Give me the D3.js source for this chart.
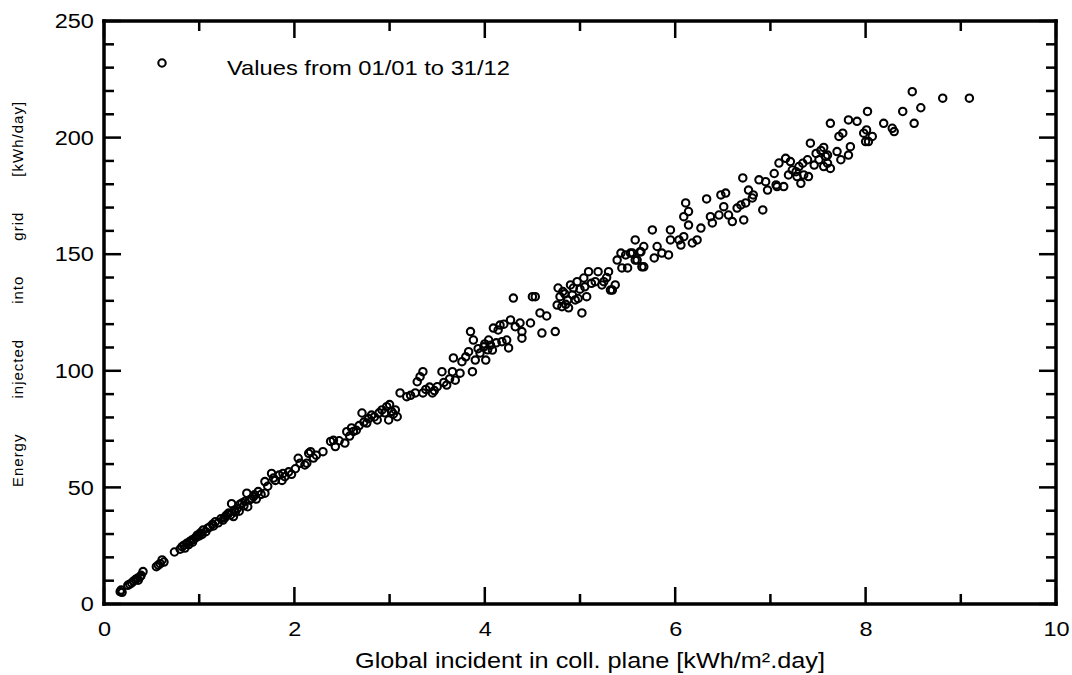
<!DOCTYPE html>
<html>
<head>
<meta charset="utf-8">
<script src="https://cdn.jsdelivr.net/npm/d3@7"></script>
<style>
  body { margin: 0; background: #fff; }
  svg { display: block; }
  text { font-family: "Liberation Sans", Arial, sans-serif; fill: #000; }
</style>
</head>
<body>
<div id="chart"></div>
<script>
// daily values: [global incident kWh/m².day, energy to grid kWh/day]
const pointsLow = [
  [0.17,5.3],[0.18,6.0],[0.19,5.0],[0.25,8.0],[0.27,8.5],[0.29,9.0],[0.31,9.8],[0.33,10.5],
  [0.35,11.0],[0.36,10.2],[0.38,11.7],[0.39,12.3],[0.41,13.9],[0.55,16.0],[0.57,16.7],[0.59,17.3],
  [0.61,18.9],[0.63,18.0],[0.74,22.3],[0.8,23.5],[0.82,24.6],[0.84,25.2],[0.85,24.0],[0.87,26.0],
  [0.89,25.5],[0.9,26.8],[0.92,27.3],[0.93,26.5],[0.94,27.8],[0.96,28.3],[0.97,28.8],[0.98,29.5],
  [1.0,29.2],[1.01,30.4],[1.03,29.8],[1.04,31.7],[1.07,31.0],[1.09,32.5],[1.11,33.0],[1.14,34.2],
  [1.15,33.5],[1.17,35.3],[1.2,34.8],[1.23,36.6],[1.25,36.0],[1.27,37.0],[1.28,37.8],[1.3,38.5],
  [1.31,39.0],[1.33,38.2],[1.34,43.0],[1.36,37.5],[1.37,40.2],[1.38,39.5],[1.4,41.0],[1.42,39.8],
  [1.43,42.8],[1.45,43.3],[1.47,42.1],[1.48,44.0],[1.5,47.5],[1.51,41.7],[1.53,44.6],[1.55,45.2],
  [1.57,46.0],[1.58,46.8],[1.6,45.0],[1.62,48.2],[1.65,47.0],[1.69,47.5],[1.69,52.5],[1.72,50.5],
  [1.76,56.0],[1.78,54.0],[1.8,53.0],[1.84,55.3],[1.87,53.0],[1.88,56.0],[1.9,54.6],[1.94,56.7],
  [1.97,55.6],[2.01,58.0],[2.04,62.5],[2.06,60.4],[2.11,59.6],[2.13,60.4],[2.15,64.6],[2.17,65.3],
  [2.2,62.6],[2.23,63.8],[2.3,65.3],[2.38,69.7],[2.41,70.2],[2.43,67.5],[2.47,70.0]
];
const pointsMid = [
  [2.53,69.0],[2.55,73.9],[2.58,72.0],[2.6,75.5],[2.62,74.0],[2.65,74.5],[2.68,76.5],[2.71,81.9],
  [2.73,78.0],[2.76,77.6],[2.78,79.5],[2.81,81.0],[2.84,80.2],[2.87,78.9],[2.89,82.0],[2.92,83.2],
  [2.95,82.0],[2.97,84.6],[2.99,78.9],[3.0,85.5],[3.02,82.6],[3.04,81.5],[3.06,83.2],[3.08,80.3],
  [3.11,90.5],[3.18,88.9],[3.22,89.5],[3.27,90.5],[3.29,95.3],[3.32,97.5],[3.35,99.6],[3.35,90.5],
  [3.38,92.0],[3.42,93.0],[3.45,90.5],[3.47,91.5],[3.5,93.2],[3.55,99.6],[3.57,95.0],[3.6,93.9],
  [3.63,96.5],[3.66,99.6],[3.67,105.5],[3.69,96.0],[3.74,99.0],[3.76,103.9],[3.8,106.0],[3.83,108.2],
  [3.85,116.8],[3.87,99.6],[3.88,113.2],[3.9,104.6],[3.93,109.5],[3.95,107.6],[3.99,110.3],[4.0,111.5],
  [4.01,104.6],[4.03,109.0],[4.04,113.2],[4.06,111.0],[4.08,108.9],[4.09,118.3],[4.12,112.0],[4.14,117.5],
  [4.16,119.6],[4.18,112.5],[4.2,120.0],[4.23,113.2],[4.25,109.8],[4.27,121.8],[4.3,131.2],[4.32,118.9],
  [4.37,120.5],[4.39,116.8],[4.39,114.0],[4.48,120.5],[4.5,131.8],[4.53,131.8],[4.58,124.8],[4.6,116.2],
  [4.65,123.5],[4.74,116.8],[4.76,128.2],[4.77,135.5],[4.79,131.8],[4.81,127.5],[4.82,134.0],[4.84,133.0],
  [4.85,128.5],[4.87,130.4],[4.88,127.0],[4.9,136.8],[4.92,132.5],[4.93,135.5],[4.95,130.4],[4.97,138.2],
  [4.98,131.0],[5.0,135.0],[5.02,124.8],[5.04,139.8],[5.05,136.0],[5.07,131.8],[5.09,142.5],[5.12,137.5],
  [5.16,138.2],[5.19,142.5],[5.23,136.8],[5.25,138.2],[5.28,140.0],[5.3,142.5],[5.32,134.6],[5.34,134.6],
  [5.37,136.8],[5.39,147.5],[5.43,150.5],[5.44,144.1],[5.48,149.7]
];
const pointsHigh = [
  [5.5,144.1],[5.53,150.5],[5.55,150.5],[5.58,147.5],[5.58,156.1],[5.6,147.5],[5.63,151.0],[5.64,151.0],
  [5.65,144.6],[5.67,153.3],[5.67,144.6],[5.76,160.4],[5.78,148.4],[5.81,153.3],[5.86,150.5],[5.93,149.7],
  [5.95,160.4],[5.95,156.1],[6.04,156.1],[6.06,153.9],[6.09,157.5],[6.09,166.1],[6.11,172.0],[6.14,168.3],
  [6.14,162.5],[6.18,154.8],[6.23,156.1],[6.27,161.2],[6.33,173.7],[6.37,166.1],[6.39,163.4],[6.46,166.8],
  [6.48,175.4],[6.51,170.4],[6.53,176.2],[6.56,166.8],[6.6,164.0],[6.65,169.8],[6.69,171.1],[6.71,182.7],
  [6.72,164.7],[6.74,172.0],[6.77,177.5],[6.81,174.1],[6.82,175.4],[6.88,181.9],[6.92,169.0],[6.95,181.1],
  [6.97,177.5],[7.04,184.6],[7.06,179.7],[7.07,179.0],[7.09,189.1],[7.14,179.0],[7.16,191.1],[7.19,184.0],
  [7.21,189.7],[7.23,186.1],[7.27,185.4],[7.28,183.3],[7.3,187.6],[7.32,180.4],[7.34,189.0],[7.35,184.0],
  [7.39,190.5],[7.4,183.3],[7.42,197.6],[7.46,188.2],[7.48,193.2],[7.51,190.5],[7.53,194.5],[7.56,187.6],
  [7.56,195.8],[7.58,191.9],[7.6,189.0],[7.6,192.5],[7.63,186.8],[7.63,206.1],[7.7,194.0],[7.72,200.5],
  [7.74,190.5],[7.76,201.9],[7.82,207.6],[7.82,192.5],[7.84,196.1],[7.91,207.0],[7.98,201.9],[8.0,198.3],
  [8.01,203.3],[8.02,211.2],[8.03,198.3],[8.07,200.5],[8.19,206.1],[8.28,204.0],[8.3,202.6],[8.39,211.2],
  [8.49,219.7],[8.51,206.1],[8.58,212.8],[8.81,216.9],[9.09,216.9]
];

const xMajorTicks = [0, 2, 4, 6, 8, 10];
const xMinorTicks = [1, 3, 5, 7, 9];
const yMajorTicks = [0, 50, 100, 150, 200, 250];
const yMinorTicks = [10, 20, 30, 40, 60, 70, 80, 90, 110, 120, 130, 140, 160, 170, 180, 190, 210, 220, 230, 240];

const xTitle = 'Global incident in coll. plane [kWh/m\u00b2.day]';
const yTitleWords = ['Energy', 'injected', 'into', 'grid', '[kWh/day]'];
const legendLabel = 'Values from 01/01 to 31/12';

const W = 1072, H = 675;
const margin = {top: 21, right: 16, bottom: 71, left: 104};
const width = W - margin.left - margin.right;
const height = H - margin.top - margin.bottom;

const svg = d3.select('#chart').append('svg')
    .attr('width', W)
    .attr('height', H);

// scales in page pixels so every mark sits directly in the svg
const x = d3.scaleLinear().domain([0, 10]).range([margin.left, margin.left + width]);
const y = d3.scaleLinear().domain([0, 250]).range([margin.top + height, margin.top]);
const x0 = x(0), x1 = x(10), y0 = y(0), y1 = y(250);

// tick labels through d3 axes (lines dropped, marks drawn below)
function labelAxis(axis, transform) {
  const a = svg.append('g').attr('transform', transform).call(axis);
  a.select('.domain').remove();
  a.selectAll('.tick line').remove();
  a.attr('font-family', null).attr('font-size', null);
  a.selectAll('text')
      .attr('font-size', 21)
      .attr('transform', 'scale(1.12,1)');
}
labelAxis(d3.axisBottom(x).tickValues(xMajorTicks).tickSize(0).tickPadding(17)
    .tickFormat(d3.format('d')), `translate(0,${y0})`);
labelAxis(d3.axisLeft(y).tickValues(yMajorTicks).tickSize(0).tickPadding(9)
    .tickFormat(d3.format('d')), `translate(${x0},0)`);

// inward tick marks on all four sides, drawn as filled bars
const tw = 2.5;
const tickLayer = svg.append('g').attr('fill', '#000');
function xTickBars(values, len) {
  tickLayer.selectAll(null).data(values).enter().append('rect')
      .attr('x', (d) => x(d) - tw / 2).attr('y', y0 - len)
      .attr('width', tw).attr('height', len);
  tickLayer.selectAll(null).data(values).enter().append('rect')
      .attr('x', (d) => x(d) - tw / 2).attr('y', y1)
      .attr('width', tw).attr('height', len);
}
function yTickBars(values, len) {
  tickLayer.selectAll(null).data(values).enter().append('rect')
      .attr('x', x0).attr('y', (d) => y(d) - tw / 2)
      .attr('width', len).attr('height', tw);
  tickLayer.selectAll(null).data(values).enter().append('rect')
      .attr('x', x1 - len).attr('y', (d) => y(d) - tw / 2)
      .attr('width', len).attr('height', tw);
}
xTickBars(xMajorTicks, 17);
xTickBars(xMinorTicks, 10);
yTickBars(yMajorTicks, 17);
yTickBars(yMinorTicks, 10);

// frame as four filled bars
const fw = 3.5;
const frame = svg.append('g').attr('fill', '#000');
frame.append('rect').attr('x', x0 - fw / 2).attr('y', y1 - fw / 2).attr('width', x1 - x0 + fw).attr('height', fw);
frame.append('rect').attr('x', x0 - fw / 2).attr('y', y0 - fw / 2).attr('width', x1 - x0 + fw).attr('height', fw);
frame.append('rect').attr('x', x0 - fw / 2).attr('y', y1 - fw / 2).attr('width', fw).attr('height', y0 - y1 + fw);
frame.append('rect').attr('x', x1 - fw / 2).attr('y', y1 - fw / 2).attr('width', fw).attr('height', y0 - y1 + fw);

// points
const allPoints = pointsLow.concat(pointsMid, pointsHigh);
svg.append('g').selectAll('circle')
    .data(allPoints)
    .enter()
    .append('circle')
    .attr('cx', (d) => x(d[0]))
    .attr('cy', (d) => y(d[1]))
    .attr('r', 3.7)
    .attr('fill', 'none')
    .attr('stroke', '#000')
    .attr('stroke-width', 2.1);

// legend
svg.append('circle')
    .attr('cx', x0 + 58)
    .attr('cy', y1 + 42)
    .attr('r', 3.7)
    .attr('fill', 'none')
    .attr('stroke', '#000')
    .attr('stroke-width', 2.1);
svg.append('text')
    .attr('x', x0 + 123)
    .attr('y', y1 + 54)
    .attr('font-size', 21)
    .attr('textLength', 283)
    .attr('lengthAdjust', 'spacingAndGlyphs')
    .text(legendLabel);

// axis titles
svg.append('text')
    .attr('x', 355)
    .attr('y', 668)
    .attr('font-size', 22)
    .attr('textLength', 470)
    .attr('lengthAdjust', 'spacingAndGlyphs')
    .text(xTitle);

// y title: words spread out along the axis
const yTitle = svg.append('text')
    .attr('transform', 'translate(23,294) rotate(-90)')
    .attr('text-anchor', 'middle')
    .attr('font-size', 15)
    .attr('letter-spacing', 1);
yTitle.selectAll('tspan')
    .data(yTitleWords)
    .enter()
    .append('tspan')
    .attr('dx', (d, i) => (i === 0 ? 0 : 35))
    .text((d) => d);
</script>
</body>
</html>
